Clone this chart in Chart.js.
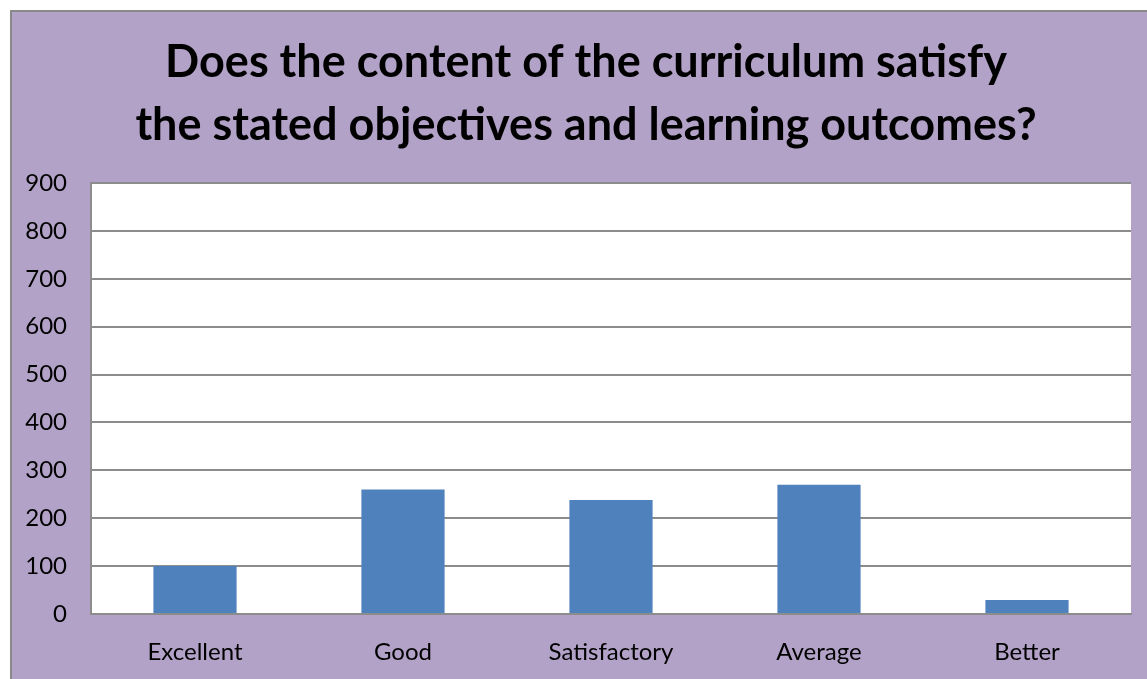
<!DOCTYPE html>
<html>
<head>
<meta charset="utf-8">
<script src="https://cdn.jsdelivr.net/npm/chart.js@4.4.0/dist/chart.umd.min.js"></script>
<style>
  body { margin: 0; background: #fff; overflow: hidden; }
  #frame { position: absolute; left: 10px; top: 10px; width: 1150px; height: 680px;
           background: #B3A2C7; border-left: 2px solid #8a8a8a; border-top: 2px solid #8a8a8a; }
  #wrap { position: absolute; left: 0; top: 0; width: 1147px; height: 679px; }
</style>
</head>
<body>
<div id="frame"></div>
<div id="wrap"><canvas id="myChart"></canvas></div>
<script>
// chart data
var categories = ["Excellent", "Good", "Satisfactory", "Average", "Better"];
var responses = [100, 260, 238, 270, 29];
var titleLines = ["Does the content of the curriculum satisfy", "the stated objectives and learning outcomes?"];

// white plot area behind the bars
var plotBackground = {
  id: "plotBackground",
  beforeDraw: function(chart) {
    var a = chart.chartArea, c = chart.ctx;
    c.save();
    c.fillStyle = "#ffffff";
    c.fillRect(a.left, a.top, a.right - a.left, a.bottom - a.top);
    c.restore();
  }
};

// title, drawn by hand so it sits centred over the frame rather than the padded box
var titleText = {
  id: "titleText",
  afterDraw: function(chart) {
    var c = chart.ctx;
    c.save();
    c.fillStyle = "#000";
    c.font = "bold 45px Lato";
    c.textAlign = "center";
    c.textBaseline = "middle";
    for (var i = 0; i < titleLines.length; i++) {
      c.fillText(titleLines[i], 586, 62 + i * 63);
    }
    c.restore();
  }
};

var ctx = document.getElementById("myChart").getContext("2d");
var myNewChart = new Chart(ctx, {
  type: "bar",
  data: {
    labels: categories,
    datasets: [{
      data: responses,
      backgroundColor: "#4F81BD",
      borderWidth: 0,
      barPercentage: 0.4,
      categoryPercentage: 1.0
    }]
  },
  options: {
    responsive: true,
    maintainAspectRatio: false,
    animation: false,
    layout: { padding: { left: 0, right: 16, top: 183, bottom: 0 } },
    plugins: {
      legend: { display: false },
      tooltip: { enabled: false },
      title: { display: false }
    },
    scales: {
      x: {
        afterFit: function(scale) { scale.height = 65; },
        grid: { display: false, drawTicks: false },
        border: { display: true, color: "#8c8c8c", width: 2 },
        ticks: { color: "#000", font: { family: "Lato", size: 24 }, padding: 24 }
      },
      y: {
        min: 0,
        max: 900,
        afterFit: function(scale) { scale.width = 91; },
        grid: { color: "#8c8c8c", lineWidth: 2, drawTicks: false },
        border: { display: true, color: "#8c8c8c", width: 2 },
        ticks: { stepSize: 100, color: "#000", font: { family: "Lato", size: 24 }, padding: 24 }
      }
    }
  },
  plugins: [plotBackground, titleText]
});
</script>
</body>
</html>
